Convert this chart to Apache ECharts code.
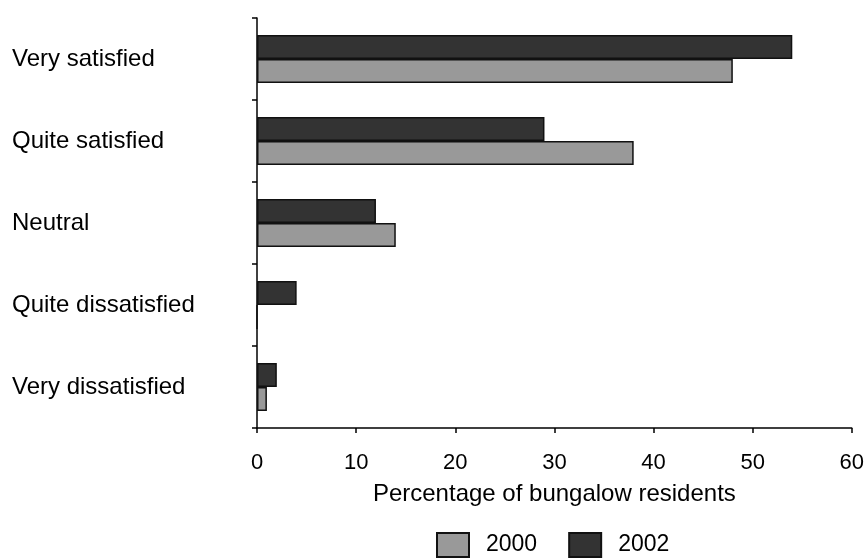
<!DOCTYPE html>
<html>
<head>
<meta charset="utf-8">
<script src="https://cdn.jsdelivr.net/npm/echarts@6/dist/echarts.min.js"></script>
<style>
html,body{margin:0;padding:0;background:#fff;}
#chart{width:867px;height:559px;}
</style>
</head>
<body>
<div id="chart"></div>
<script>
// Categories listed bottom to top (ECharts category y-axis starts at the bottom)
var categories = ['Very dissatisfied', 'Quite dissatisfied', 'Neutral', 'Quite satisfied', 'Very satisfied'];
var values2000 = [1, 0, 14, 38, 48];
var values2002 = [2, 4, 12, 29, 54];
var seriesNames = ['2000', '2002'];
var xTicks = [0, 10, 20, 30, 40, 50, 60];
var axisTitle = 'Percentage of bungalow residents';

var FONT = 'Liberation Sans, Arial, Helvetica, sans-serif';
var chart = echarts.init(document.getElementById('chart'), null, {renderer: 'canvas'});
chart.setOption({
  animation: false,
  backgroundColor: '#ffffff',
  grid: {left: 257, right: 15, top: 18, bottom: 131, containLabel: false},
  legend: {
    left: 436, top: 532, padding: 0,
    itemWidth: 32, itemHeight: 24, itemGap: 31,
    icon: 'rect',
    data: seriesNames,
    textStyle: {fontFamily: FONT, fontSize: 23, color: '#000', padding: [0, 0, 0, 12]}
  },
  xAxis: {
    type: 'value',
    min: xTicks[0], max: xTicks[xTicks.length - 1], interval: 10,
    name: axisTitle, nameLocation: 'middle', nameGap: 54,
    nameTextStyle: {fontFamily: FONT, fontSize: 24, color: '#000'},
    axisLine: {show: true, lineStyle: {color: '#000', width: 1.5}},
    axisTick: {show: true, length: 5, lineStyle: {color: '#000', width: 1.5}},
    axisLabel: {fontFamily: FONT, fontSize: 22, color: '#000', margin: 24},
    splitLine: {show: false}
  },
  yAxis: {
    type: 'category',
    data: categories,
    axisLine: {show: true, lineStyle: {color: '#000', width: 1.5}},
    axisTick: {show: true, length: 5, alignWithLabel: false, lineStyle: {color: '#000', width: 1.5}},
    axisLabel: {fontFamily: FONT, fontSize: 24, color: '#000', margin: 245, align: 'left'},
    splitLine: {show: false}
  },
  series: [
    {
      name: seriesNames[1], type: 'bar', data: values2002,
      barWidth: 24, barGap: '0%',
      itemStyle: {color: '#333333', borderColor: '#111', borderWidth: 1.5}
    },
    {
      name: seriesNames[0], type: 'bar', data: values2000,
      barWidth: 24, barGap: '0%',
      itemStyle: {color: '#999999', borderColor: '#111', borderWidth: 1.5}
    }
  ]
});
</script>
</body>
</html>
